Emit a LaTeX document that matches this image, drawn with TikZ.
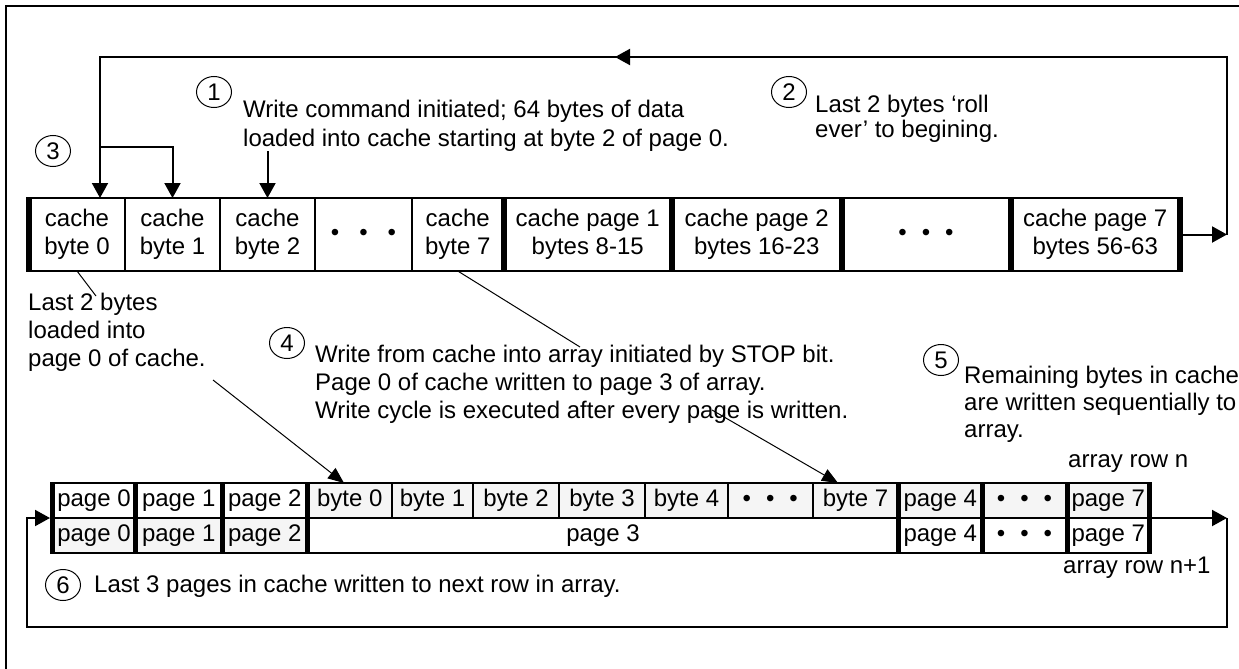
\documentclass[tikz,border=0pt]{standalone}
\usepackage{fontspec}
\setmainfont{Liberation Sans}
\usetikzlibrary{arrows.meta,shapes.geometric}
\begin{document}
\begin{tikzpicture}[x=1pt,y=-1pt,
  every node/.style={font=\fontsize{24}{28}\selectfont},
  cell/.style={draw=black, line width=2pt, minimum height=73pt, inner sep=0pt, outer sep=0pt, align=center},
  acell/.style={draw=black, line width=2pt, minimum height=35pt, inner sep=0pt, outer sep=0pt, align=center},
  shade/.style={fill=black!4},
  thickb/.style={line width=6pt, shorten <=-1pt, shorten >=-1pt},
  thickc/.style={line width=5pt, shorten <=-1pt, shorten >=-1pt},
  num/.style={draw, ellipse, line width=1pt, minimum width=35pt, minimum height=31pt, inner sep=0pt},
  txt/.style={anchor=base west, inner sep=0pt},
  loopl/.style={line width=2pt},
  tip/.style={-{Triangle[length=15pt,width=16pt]}},
  tipb/.style={-{Triangle[length=16pt,width=13pt]}},
  lead/.style={line width=1pt},
]
\useasboundingbox (0,0) rectangle (1239,669);
% frame
\draw[line width=2.5pt] (6,690) -- (6,6) -- (1260,6);

% cache row
\node[cell, minimum width=96pt]   (c0) at (77,234.5) {cache\\byte 0};
\node[cell, minimum width=95pt]   (c1) at (172.5,234.5) {cache\\byte 1};
\node[cell, minimum width=95pt]   (c2) at (267.5,234.5) {cache\\byte 2};
\node[cell, minimum width=97pt]   (c3) at (363.5,234.5) {•\hspace{20pt}•\hspace{20pt}•};
\node[cell, minimum width=91.5pt] (c4) at (457.75,234.5) {cache\\byte 7};
\node[cell, minimum width=168.5pt] (c5) at (587.75,234.5) {cache page 1\\bytes 8-15};
\node[cell, minimum width=169.5pt] (c6) at (756.75,234.5) {cache page 2\\bytes 16-23};
\node[cell, minimum width=169pt]  (c7) at (926,234.5) {•\hspace{15pt}•\hspace{15pt}•};
\node[cell, minimum width=169.5pt] (c8) at (1095.25,234.5) {cache page 7\\bytes 56-63};
\foreach \c in {c0,c5,c6,c7,c8}{\draw[thickb] (\c.north west) -- (\c.south west);}
\draw[thickb] (c8.north east) -- (c8.south east);

% array row n
\node[acell, minimum width=83pt]   (r1) at (94,500.5) {page 0};
\node[acell, minimum width=86.5pt] (r2) at (178.75,500.5) {page 1};
\node[acell, minimum width=85.5pt] (r3) at (264.75,500.5) {page 2};
\node[acell, shade, minimum width=84.5pt] (r4) at (349.75,500.5) {byte 0};
\node[acell, shade, minimum width=81pt]   (r5) at (432.5,500.5) {byte 1};
\node[acell, shade, minimum width=86pt]   (r6) at (516,500.5) {byte 2};
\node[acell, shade, minimum width=86pt]   (r7) at (602,500.5) {byte 3};
\node[acell, shade, minimum width=83pt]   (r8) at (686.5,500.5) {byte 4};
\node[acell, shade, minimum width=84.5pt] (r9) at (770.25,500.5) {•\hspace{15pt}•\hspace{15pt}•};
\node[acell, shade, minimum width=86pt]   (r10) at (855.5,500.5) {byte 7};
\node[acell, shade, minimum width=83.5pt] (r11) at (940.25,500.5) {page 4};
\node[acell, shade, minimum width=85pt]   (r12) at (1024.5,500.5) {•\hspace{15pt}•\hspace{15pt}•};
\node[acell, shade, minimum width=82.5pt] (r13) at (1108.25,500.5) {page 7};
% array row n+1
\node[acell, shade, minimum width=83pt]   (s1) at (94,535.5) {page 0};
\node[acell, shade, minimum width=86.5pt] (s2) at (178.75,535.5) {page 1};
\node[acell, shade, minimum width=85.5pt] (s3) at (264.75,535.5) {page 2};
\node[acell, minimum width=591pt]  (s4) at (603,535.5) {page 3};
\node[acell, minimum width=83.5pt] (s11) at (940.25,535.5) {page 4};
\node[acell, minimum width=85pt]   (s12) at (1024.5,535.5) {•\hspace{15pt}•\hspace{15pt}•};
\node[acell, minimum width=82.5pt] (s13) at (1108.25,535.5) {page 7};
\foreach \a/\b in {r1/s1,r2/s2,r3/s3,r4/s4,r11/s11,r12/s12,r13/s13}{\draw[thickc] (\a.north west) -- (\b.south west);}
\draw[thickc] (r13.north east) -- (s13.south east);

% circled numbers
\node[num] (n1) at (214,92) {1};
\node[num] (n2) at (789,92) {2};
\node[num] (n3) at (53,151) {3};
\node[num] (n4) at (287,343) {4};
\node[num] (n5) at (941,360) {5};
\node[num] (n6) at (63,585) {6};

% texts
\node[txt] (t1a) at (243,117) {Write command initiated; 64 bytes of data};
\node[txt] (t1b) at (243,146) {loaded into cache starting at byte 2 of page 0.};
\node[txt] (t2a) at (815,112) {Last 2 bytes ‘roll};
\node[txt] (t2b) at (815,137) {ever’ to begining.};
\node[txt] (t3a) at (28,310) {Last 2 bytes};
\node[txt] (t3b) at (28,338) {loaded into};
\node[txt] (t3c) at (28,366) {page 0 of cache.};
\node[txt] (t4a) at (315,362) {Write from cache into array initiated by STOP bit.};
\node[txt] (t4b) at (315,390) {Page 0 of cache written to page 3 of array.};
\node[txt] (t4c) at (315,418) {Write cycle is executed after every page is written.};
\node[txt] (t5a) at (964,383) {Remaining bytes in cache};
\node[txt] (t5b) at (964,410) {are written sequentially to};
\node[txt] (t5c) at (964,437) {array.};
\node[txt] (rn) at (1068,467) {array row n};
\node[txt] (rn1) at (1063,573) {array row n+1};
\node[txt] (t6) at (94,592) {Last 3 pages in cache written to next row in array.};

% top loop (roll over)
\coordinate (tr) at (1227,234.5);
\coordinate (trt) at (1227,57);
\coordinate (tmid) at (615,57);
\coordinate (tlt) at (100,57);
\coordinate (br) at (100,147);
\coordinate (a2s) at (267.5,151);
\draw[loopl,tip] (c8.east) -- (tr);
\draw[loopl,tip] (tr) -- (trt) -- (tlt) -- (tlt |- c0.north);
\draw[loopl,tip] (trt) -- (tmid);
\draw[loopl,tip] (br) -- (br -| c1.north) -- (c1.north);
\draw[loopl,tip] (a2s) -- (c2.north);

% bottom loop (next row)
\coordinate (rr) at (1227,518);
\coordinate (rb) at (1227,627);
\coordinate (lb) at (27,627);
\coordinate (lt) at (27,518);
\draw[loopl,tip] (r13.south east) -- (rr);
\draw[loopl,tip] (rr) -- (rb) -- (lb) -- (lt) -- ([xshift=-2.5pt]r1.south west);

% leader lines
\coordinate (l1e) at (96,296);
\coordinate (l2e) at (580,347);
\coordinate (l3s) at (213,380);
\coordinate (b0t) at (344,483);
\coordinate (l4s) at (712,410);
\coordinate (b7t) at (838,483);
\draw[lead] (c0.south) -- (l1e);
\draw[lead] (c4.south) -- (l2e);
\draw[lead,tipb] (l3s) -- (b0t);
\draw[lead,tipb] (l4s) -- (b7t);
\end{tikzpicture}
\end{document}
